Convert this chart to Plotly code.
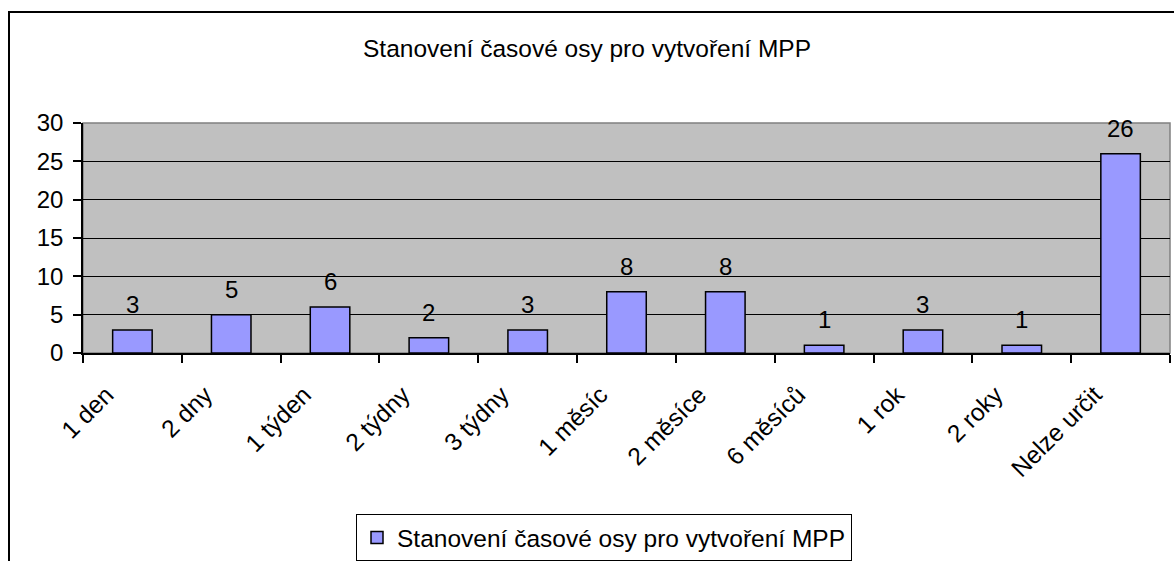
import plotly.graph_objects as go

categories = ["1 den", "2 dny", "1 týden", "2 týdny", "3 týdny", "1 měsíc",
              "2 měsíce", "6 měsíců", "1 rok", "2 roky", "Nelze určit"]
counts = [3, 5, 6, 2, 3, 8, 8, 1, 3, 1, 26]
series_name = "Stanovení časové osy pro vytvoření MPP"

FONT = "Liberation Sans, Arial, sans-serif"

fig = go.Figure()

fig.add_trace(
    go.Bar(
        x=categories,
        y=counts,
        name=series_name,
        marker=dict(color="#9999FF", line=dict(color="black", width=1.5)),
        showlegend=True
    )
)

# data labels above the bars
for cat, val in zip(categories, counts):
    fig.add_annotation(
        x=cat, y=val, text=str(val),
        showarrow=False, yanchor="bottom", yshift=10,
        font=dict(family=FONT, size=24, color="black")
    )

# outer chart border (partly cut off on right and bottom)
fig.add_shape(
    type="rect", xref="paper", yref="paper",
    x0=(9 - 83) / 1087, x1=(1190 - 83) / 1087,
    y0=(353 - 580) / 230, y1=(353 - 12) / 230,
    line=dict(color="black", width=2), layer="above"
)

# plot area border (grey)
fig.add_shape(
    type="rect", xref="paper", yref="paper",
    x0=0, x1=1, y0=0, y1=1,
    line=dict(color="#808080", width=1.5), layer="below"
)

fig.update_layout(
    width=1174,
    height=561,
    margin=dict(l=83, r=4, t=123, b=208, autoexpand=False),
    paper_bgcolor="white",
    plot_bgcolor="#C0C0C0",
    bargap=0.6,
    font=dict(family=FONT, size=24, color="black"),
    title=dict(
        text=series_name,
        x=0.5, xref="container", xanchor="center",
        y=1 - 48 / 561, yref="container", yanchor="middle",
        font=dict(family=FONT, size=24.5, color="black")
    ),
    legend=dict(
        x=(604 - 83) / 1087, xanchor="center",
        y=(353 - 514) / 230, yanchor="top",
        orientation="h",
        bordercolor="black", borderwidth=1, bgcolor="white",
        font=dict(family=FONT, size=24.5, color="black")
    ),
    xaxis=dict(
        type="category",
        automargin=False,
        tickangle=-45,
        tickson="boundaries",
        ticks="outside", ticklen=8, tickcolor="black", tickwidth=1.5,
        ticklabelstandoff=16, ticklabelshift=-26,
        showline=True, linecolor="black", linewidth=1.5,
        showgrid=False,
        tickfont=dict(family=FONT, size=24.5, color="black")
    ),
    yaxis=dict(
        automargin=False,
        range=[0, 30], dtick=5,
        ticks="outside", ticklen=8, tickcolor="black", tickwidth=1.5,
        ticklabelstandoff=5,
        showline=True, linecolor="black", linewidth=1.5,
        showgrid=True, gridcolor="black", gridwidth=1.2,
        zeroline=False,
        tickfont=dict(family=FONT, size=24, color="black")
    )
)

fig.write_html(
    "out.html",
    config={"displayModeBar": False},
    post_script="document.body.style.margin='0';"
)
